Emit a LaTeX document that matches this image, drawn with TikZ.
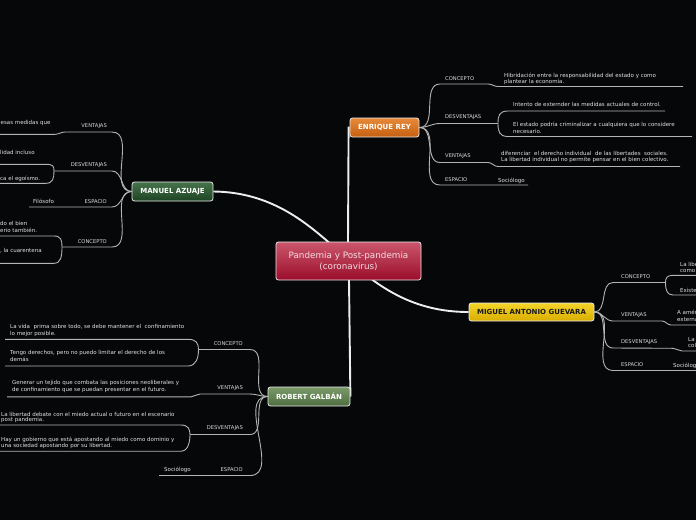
\documentclass[tikz,border=0pt]{standalone}
\usepackage{fontspec}
\setmainfont{DejaVu Sans}
\definecolor{bg}{HTML}{050709}
\definecolor{brc}{HTML}{B4B4B4}
\definecolor{trk}{HTML}{EDEDED}
\definecolor{lbltxt}{HTML}{DADADA}
\definecolor{bodytxt}{HTML}{E2E2E2}
\definecolor{cTop}{HTML}{CA566C}
\definecolor{cBot}{HTML}{9B0D2B}
\definecolor{ctxt}{HTML}{F4DDE2}
\definecolor{eTop}{HTML}{E88A3A}
\definecolor{eBot}{HTML}{C45F10}
\definecolor{mTop}{HTML}{46734C}
\definecolor{mBot}{HTML}{1D4423}
\definecolor{gTop}{HTML}{F5D52A}
\definecolor{gBot}{HTML}{D9AD00}
\definecolor{rTop}{HTML}{7A9A6A}
\definecolor{rBot}{HTML}{4E6E40}
\pgfdeclarelayer{back}
\pgfdeclarelayer{lines}
\pgfsetlayers{back,lines,main}
\tikzset{
  mainbox/.style={rounded corners=2.5pt, draw=white!92!black, line width=0.8pt, inner sep=0pt, text=white,
    font=\fontsize{7}{8}\selectfont\bfseries},
  lbl/.style={font=\fontsize{5.2}{6}\selectfont, text=lbltxt, inner xsep=0pt, inner ysep=3.6pt},
  txt/.style={font=\fontsize{5.5}{6}\selectfont, text=bodytxt, inner sep=0pt, align=left},
  br/.style={draw=brc, line width=0.9pt},
  trunk/.style={draw=trk, line width=1.9pt},
}
\begin{document}
\begin{tikzpicture}[x=1pt,y=-1pt]
\begin{pgfonlayer}{back}
\fill[bg] (0,0) rectangle (696,520);
\end{pgfonlayer}
\useasboundingbox (0,0) rectangle (696,520);

% main nodes
\node[mainbox, top color=cTop, bottom color=cBot, minimum width=145pt, minimum height=38pt, text=ctxt,
  font=\fontsize{8.8}{10.7}\selectfont, align=center] (c) at (348.5,261) {Pandemia y Post-pandemia\\(coronavirus)};
\node[mainbox, top color=eTop, bottom color=eBot, minimum width=69pt, minimum height=19pt] (er) at (384.5,127.5) {ENRIQUE REY};
\node[mainbox, top color=mTop, bottom color=mBot, minimum width=81pt, minimum height=19pt] (ma) at (172.5,191.5) {MANUEL AZUAJE};
\node[mainbox, top color=gTop, bottom color=gBot, minimum width=125pt, minimum height=18pt, text=black!90] (mg) at (531.5,312) {MIGUEL ANTONIO GUEVARA};
\node[mainbox, top color=rTop, bottom color=rBot, minimum width=82pt, minimum height=19pt] (rb) at (309,396.5) {ROBERT GALBÁN};

\coordinate (cE) at (348,242);
\coordinate (cM) at (329,242.5);
\coordinate (cG) at (372,279.5);
\coordinate (cR) at (349,280);

% labels Enrique
\node[lbl, anchor=south west] (eC) at (445,84) {CONCEPTO};
\node[lbl, anchor=south west] (eD) at (445,123.5) {DESVENTAJAS};
\node[lbl, anchor=south west] (eV) at (445,162.5) {VENTAJAS};
\node[lbl, anchor=south west] (eE) at (445,185) {ESPACIO};
% labels Manuel
\node[lbl, anchor=south east] (mV) at (107,132) {VENTAJAS};
\node[lbl, anchor=south east] (mD) at (107,171) {DESVENTAJAS};
\node[lbl, anchor=south east] (mE) at (107,207) {ESPACIO};
\node[lbl, anchor=south east] (mC) at (107,247) {CONCEPTO};
% labels Miguel
\node[lbl, anchor=south west] (gC) at (621,282.5) {CONCEPTO};
\node[lbl, anchor=south west] (gV) at (621,321) {VENTAJAS};
\node[lbl, anchor=south west] (gD) at (621,348) {DESVENTAJAS};
\node[lbl, anchor=south west] (gE) at (621,370.5) {ESPACIO};
% labels Robert
\node[lbl, anchor=south east] (rC) at (243,349.5) {CONCEPTO};
\node[lbl, anchor=south east] (rV) at (243,394) {VENTAJAS};
\node[lbl, anchor=south east] (rD) at (243,434.5) {DESVENTAJAS};
\node[lbl, anchor=south east] (rE) at (243,475.5) {ESPACIO};

% texts Enrique
\node[txt, anchor=north west] (eCt) at (504,72.6) {Hibridación entre la responsabilidad del estado y como\\plantear la economía.};
\node[txt, anchor=base west] (eD1) at (513,106) {Intento de externder las medidas actuales de control.};
\node[txt, anchor=north west, font=\fontsize{5.5}{7}\selectfont] (eD2) at (513,121.6) {El estado podría criminalizar a cualquiera que lo considere\\necesario.};
\node[txt, anchor=north west] (eVt) at (501,151.6) {diferenciar~ el derecho individual~ de las libertades~ sociales.\\La libertad individual no permite pensar en el bien colectivo.};
\node[txt, anchor=base west] (eEt) at (498,182) {Sociólogo};
% texts Manuel
\node[txt, anchor=base west] (mVt) at (0.5,124) {esas medidas que};
\node[txt, anchor=base west] (mD1) at (0,154) {lidad incluso};
\node[txt, anchor=base west] (mD2) at (0,180) {ca el egoísmo.};
\node[txt, anchor=base west] (mEt) at (33,203) {Filósofo};
\node[txt, anchor=north west, font=\fontsize{5.5}{7}\selectfont] (mC1) at (0,221.6) {do el bien\\erio también.};
\node[txt, anchor=base west] (mC2) at (0,252) {, la cuarentena};
% texts Miguel
\node[txt, anchor=north west] (gC1) at (680,262.1) {La libe\\como};
\node[txt, anchor=base west] (gC2) at (680,292) {Existe};
\node[txt, anchor=north west, font=\fontsize{5.5}{6.5}\selectfont] (gVt) at (677,310.3) {A amér\\externa};
\node[txt, anchor=north west] (gDt) at (688,336.8) {La\\col};
\node[txt, anchor=base west] (gEt) at (673,367) {Sociólog};
% texts Robert
\node[txt, anchor=north west, font=\fontsize{5.5}{7.3}\selectfont] (rC1) at (10,324.3) {La vida~ prima sobre todo, se debe mantener el~ confinamiento\\lo mejor posible.};
\node[txt, anchor=north west, font=\fontsize{5.5}{7.3}\selectfont] (rC2) at (10,350.3) {Tengo derechos, pero no puedo limitar el derecho de los\\demás};
\node[txt, anchor=north west, font=\fontsize{5.5}{7.3}\selectfont] (rVt) at (12,380.3) {Generar un tejido que combata las posiciones neoliberales y\\de confinamiento que se puedan presentar en el futuro.};
\node[txt, anchor=north west, font=\fontsize{5.5}{5.8}\selectfont] (rD1) at (1,411.8) {La libertad debate con el miedo actual o futuro en el escenario\\post pandemia.};
\node[txt, anchor=north west, font=\fontsize{5.5}{6}\selectfont] (rD2) at (1,437.1) {Hay un gobierno que está apostando al miedo como dominio y\\una sociedad apostando por su libertad.};
\node[txt, anchor=base west] (rEt) at (164,471) {Sociólogo};

\begin{pgfonlayer}{lines}
% trunks
\draw[trunk] (cE) -- ([xshift=-1pt]er.west) -- (er.west);
\draw[trunk] (ma.east) .. controls (270,192) and (305,222) .. (cM);
\draw[trunk] (cG) .. controls (400,300) and (430,312) .. (mg.west);
\draw[trunk] (cR) -- (rb.east);

% Enrique branches
\draw[br] (er.east) to[out=0,in=180] ([xshift=-5pt]eC.south west) -- (488,84) to[out=0,in=180] (498,86.5) -- (683,86.5);
\draw[br] (er.east) to[out=0,in=180] ([xshift=-5pt]eD.south west) -- (498,123.5);
\draw[br] (665,111) -- (508,111) .. controls (499,111) and (498,116) .. (498,123.5) .. controls (498,131) and (499,136.5) .. (508,136.5) -- (692,136.5);
\draw[br] (er.east) to[out=0,in=180] ([xshift=-5pt]eV.south west) -- (488,162.5) to[out=0,in=180] (498,166.5) -- (680,166.5);
\draw[br] (er.east) to[out=0,in=180] ([xshift=-5pt]eE.south west) -- (528,185);

% Manuel branches
\draw[br] (ma.west) to[out=180,in=0] ([xshift=5pt]mV.south east) -- (65,132) to[out=180,in=0] (55,134.3) -- (0,134.3);
\draw[br] (ma.west) to[out=180,in=0] ([xshift=5pt]mD.south east) -- (54,171);
\draw[br] (0,164.3) -- (46,164.3) .. controls (53,164.3) and (54,166) .. (54,171) .. controls (54,178) and (53,183.3) .. (46,183.3) -- (0,183.3);
\draw[br] (ma.west) to[out=180,in=0] ([xshift=5pt]mE.south east) -- (29,207);
\draw[br] (ma.west) to[out=180,in=0] ([xshift=5pt]mC.south east) -- (62,247);
\draw[br] (0,236) -- (54,236) .. controls (61,236) and (62,240) .. (62,247) .. controls (62,256) and (61,263.3) .. (54,263.3) -- (0,263.3);

% Miguel branches
\draw[br] (mg.east) to[out=0,in=180] ([xshift=-8pt]gC.south west) -- (665.5,282.5);
\draw[br] (696,275.3) -- (673,275.3) .. controls (667,275.3) and (665.5,278) .. (665.5,282.5) .. controls (665.5,290) and (667,295) .. (673,295) -- (696,295);
\draw[br] (mg.east) to[out=0,in=180] ([xshift=-8pt]gV.south west) -- (662,321) to[out=0,in=180] (671,325) -- (696,325);
\draw[br] (mg.east) to[out=0,in=180] ([xshift=-8pt]gD.south west) -- (673,348.3) to[out=0,in=180] (682,351) -- (696,351);
\draw[br] (mg.east) to[out=0,in=180] ([xshift=-8pt]gE.south west) -- (696,370.5);

% Robert branches
\draw[br] (rb.west) to[out=180,in=0] ([xshift=7pt]rC.south east) -- (198.5,349.5);
\draw[br] (5,339.3) -- (188,339.3) .. controls (196,339.3) and (198.5,343) .. (198.5,349.5) .. controls (198.5,358) and (196,366) .. (188,366) -- (5,366);
\draw[br] (rb.west) to[out=180,in=0] ([xshift=7pt]rV.south east) -- (200,394) to[out=180,in=0] (191,396.8) -- (7,396.8);
\draw[br] (rb.west) to[out=180,in=0] ([xshift=7pt]rD.south east) -- (190,434.5);
\draw[br] (0,425) -- (181,425) .. controls (188,425) and (190,429) .. (190,434.5) .. controls (190,442) and (188,451.2) .. (181,451.2) -- (0,451.2);
\draw[br] (rb.west) to[out=180,in=0] ([xshift=7pt]rE.south east) -- (159,475.5);
\end{pgfonlayer}
\end{tikzpicture}
\end{document}
